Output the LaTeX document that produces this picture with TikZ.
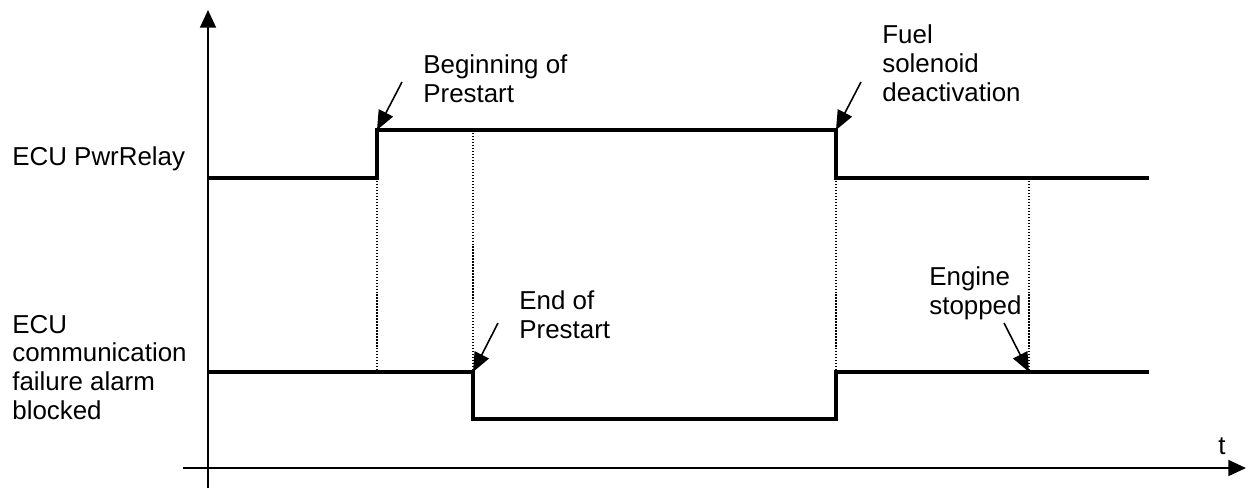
\documentclass[tikz,border=0pt]{standalone}
\usepackage{fontspec}
\setmainfont{Liberation Sans}
\usetikzlibrary{arrows.meta}

\begin{document}
\begin{tikzpicture}[x=0.02cm,y=-0.02cm,
    axis/.style={line width=1.1pt,-{Triangle[length=10pt,width=9pt]}},
    signal/.style={line width=2.3pt},
    guide/.style={line width=0.7pt,dash pattern=on 0.7pt off 1pt},
    note/.style={line width=0.9pt,-{Triangle[length=11pt,width=9pt]}},
    lbl/.style={anchor=base west,inner sep=0pt,align=left,
      font=\fontsize{14.75}{16.3}\selectfont}]
    \useasboundingbox (0,0) rectangle (1248,488);

    % Axes
    \coordinate (ybot) at (208,488);
    \coordinate (ytop) at (208,10);
    \coordinate (xleft) at (183,468);
    \coordinate (xright) at (1246,468);
    \draw[axis] (ybot) -- (ytop);
    \draw[axis] (xleft) -- (xright);
    \node[lbl] (t) at (1218,454) {t};

    % ECU PwrRelay signal
    \coordinate (r0) at (208,178);
    \coordinate (r1) at (377,178);
    \coordinate (r2) at (377,130);
    \coordinate (r3) at (836,130);
    \coordinate (r4) at (836,178);
    \coordinate (r5) at (1149,178);
    \draw[signal] (r0) -- (r1) -- (r2) -- (r3) -- (r4) -- (r5);

    % Communication failure alarm blocked signal
    \coordinate (c0) at (208,372);
    \coordinate (c1) at (473,372);
    \coordinate (c2) at (473,419);
    \coordinate (c3) at (836,419);
    \coordinate (c4) at (836,372);
    \coordinate (c5) at (1149,372);
    \draw[signal] (c0) -- (c1) -- (c2) -- (c3) -- (c4) -- (c5);

    % Dotted guide lines
    \coordinate (g1) at (377,372);
    \coordinate (g2) at (473,130);
    \coordinate (g3) at (1029,178);
    \coordinate (g4) at (1029,372);
    \draw[guide] (r1) -- (g1);
    \draw[guide] (g2) -- (c1);
    \draw[guide] (r4) -- (c4);
    \draw[guide] (g3) -- (g4);

    % Signal names (base = last line)
    \node[lbl] (relay) at (12,165) {ECU PwrRelay};
    \node[lbl] (alarm) at (12,419) {ECU\\communication\\failure alarm\\blocked};

    % Event labels and arrows
    \node[lbl] (begin) at (423,102) {Beginning of\\Prestart};
    \coordinate (a1) at (402,82);
    \draw[note] (a1) -- (r2);

    \node[lbl] (fuel) at (882,101) {Fuel\\solenoid\\deactivation};
    \coordinate (a2) at (861,82);
    \draw[note] (a2) -- (r3);

    \node[lbl] (endp) at (519,338) {End of\\Prestart};
    \coordinate (a3) at (498,323);
    \draw[note] (a3) -- (c1);

    \node[lbl] (stop) at (929,314) {Engine\\stopped};
    \coordinate (a4) at (1004,323);
    \draw[note] (a4) -- (g4);
\end{tikzpicture}
\end{document}
